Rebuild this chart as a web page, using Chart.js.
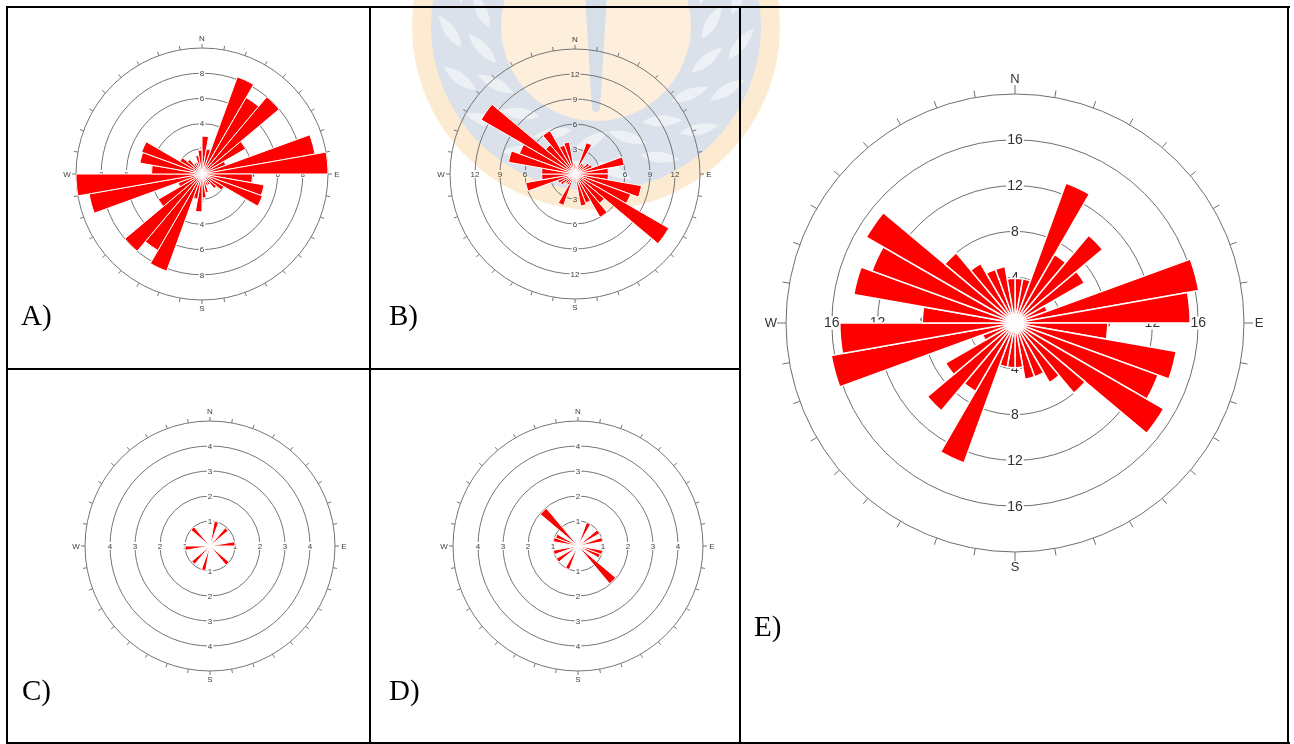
<!DOCTYPE html>
<html>
<head>
<meta charset="utf-8">
<title>Rose diagrams A–E</title>
<script src="https://cdn.jsdelivr.net/npm/chart.js@4.4.1/dist/chart.umd.min.js"></script>
<style>
  html, body { margin: 0; padding: 0; background: #fff; }
  #page { position: relative; width: 1294px; height: 744px; overflow: hidden; background: #fff; }
  #wm { position: absolute; left: 0; top: 0; }
  .rule { position: absolute; background: #000; }
  .rose { position: absolute; }
  .tag { position: absolute; font-family: "Liberation Serif", "Times New Roman", serif;
         font-size: 29px; line-height: 29px; color: #000; white-space: nowrap; }
</style>
</head>
<body>
<div id="page">
  <canvas id="wm" width="1294" height="744"></canvas>

  <!-- table rules -->
  <div class="rule" style="left:6px;top:6px;width:1284px;height:2px"></div>
  <div class="rule" style="left:6px;top:742px;width:1284px;height:2px"></div>
  <div class="rule" style="left:6px;top:6px;width:2px;height:738px"></div>
  <div class="rule" style="left:369px;top:6px;width:2px;height:738px"></div>
  <div class="rule" style="left:739px;top:6px;width:2px;height:738px"></div>
  <div class="rule" style="left:1287px;top:6px;width:2px;height:738px"></div>
  <div class="rule" style="left:6px;top:368px;width:734px;height:2px"></div>

  <canvas id="roseA" class="rose"></canvas>
  <canvas id="roseB" class="rose"></canvas>
  <canvas id="roseC" class="rose"></canvas>
  <canvas id="roseD" class="rose"></canvas>
  <canvas id="roseE" class="rose"></canvas>

  <div class="tag" style="left:21px;top:301px">A)</div>
  <div class="tag" style="left:389px;top:301px">B)</div>
  <div class="tag" style="left:22px;top:676px">C)</div>
  <div class="tag" style="left:389px;top:676px">D)</div>
  <div class="tag" style="left:754px;top:612px">E)</div>
</div>

<script>
// 10-degree direction classes, clockwise from north
const BIN_LABELS = ['0-10', '10-20', '20-30', '30-40', '40-50', '50-60', '60-70', '70-80', '80-90',
  '90-100', '100-110', '110-120', '120-130', '130-140', '140-150', '150-160', '160-170', '170-180',
  '180-190', '190-200', '200-210', '210-220', '220-230', '230-240', '240-250', '250-260', '260-270',
  '270-280', '280-290', '290-300', '300-310', '310-320', '320-330', '330-340', '340-350', '350-360'];

const CARDINALS = ['N', 'E', 'S', 'W'];

// petal lengths (frequency) per class
const ROSE_A = [3.0, 2.0, 8.2, 7.0, 8.0, 4.0, 2.0, 9.1, 10.0, 4.0, 5.0, 5.1, 2.0, 1.5, 1.0, 1.0, 1.5, 1.9,
                3.0, 2.0, 8.2, 7.0, 8.0, 4.0, 2.0, 9.1, 10.0, 4.0, 5.0, 5.1, 2.0, 1.5, 1.0, 1.0, 1.5, 1.9];
const ROSE_B = [1.0, 1.0, 4.0, 1.5, 1.5, 2.0, 2.2, 6.0, 4.0, 4.0, 8.1, 7.1, 13.0, 4.6, 6.0, 3.7, 3.9, 1.2,
                1.0, 1.0, 4.0, 1.5, 1.5, 2.0, 2.2, 6.0, 4.0, 4.0, 8.1, 7.1, 13.0, 4.6, 6.0, 3.7, 3.9, 1.2];
const ROSE_C = [0, 1.0, 0, 0, 0.95, 0, 0, 0, 1.0, 0, 0, 0, 0, 1.0, 0, 0, 0, 0,
                0, 1.0, 0, 0, 0.95, 0, 0, 0, 1.0, 0, 0, 0, 0, 1.0, 0, 0, 0, 0];
const ROSE_D = [0, 0, 1.0, 0, 0, 1.0, 0, 1.0, 0, 0, 1.0, 0.95, 0, 1.97, 0, 0, 0, 0,
                0, 0, 1.0, 0, 0, 1.0, 0, 1.0, 0, 0, 1.0, 0.95, 0, 1.97, 0, 0, 0, 0];
const ROSE_E = [3.9, 3.9, 13.0, 6.9, 10.0, 7.0, 3.0, 16.3, 15.3, 8.1, 14.3, 13.3, 15.0, 8.0, 6.0, 5.0, 5.0, 3.9,
                3.9, 3.9, 13.0, 6.9, 10.0, 7.0, 3.0, 16.3, 15.3, 8.1, 14.3, 13.3, 15.0, 8.0, 6.0, 5.0, 5.0, 3.9];

// ring values of each radial scale (last one is the outer frame ring)
const RINGS_A = [0, 2, 4, 6, 8, 10];
const RINGS_B = [0, 3, 6, 9, 12, 15];
const RINGS_C = [0, 1, 2, 3, 4, 5];
const RINGS_D = [0, 1, 2, 3, 4, 5];
const RINGS_E = [0, 4, 8, 12, 16, 20];

// ---------------------------------------------------------------------------
// background emblem behind the table
function drawEmblem() {
  const g = document.getElementById('wm').getContext('2d');
  const X = 596, Y = 26;
  g.save();
  g.beginPath(); g.arc(X, Y, 184, 0, Math.PI * 2); g.fillStyle = '#fcebd0'; g.fill();
  g.beginPath(); g.arc(X, Y, 165, 0, Math.PI * 2); g.fillStyle = '#dae1ea'; g.fill();
  // laurel leaves in the band
  g.fillStyle = '#edf1f5';
  for (let k = 0; k < 2; k++) {
    const rad = k === 0 ? 116 : 146;
    for (let a = -40; a <= 220; a += 19) {
      const t = (a + k * 9) * Math.PI / 180;
      const px = X + rad * Math.cos(t), py = Y + rad * Math.sin(t);
      g.save();
      g.translate(px, py);
      g.rotate(t + (a < 90 ? -1.0 : 1.0));
      g.beginPath();
      g.moveTo(-20, 0);
      g.quadraticCurveTo(-2, -11, 20, 0);
      g.quadraticCurveTo(-2, 11, -20, 0);
      g.fill();
      g.restore();
    }
  }
  g.beginPath(); g.arc(X, Y, 95, 0, Math.PI * 2); g.fillStyle = '#fdefdc'; g.fill();
  // torch
  g.fillStyle = '#d6dee8';
  g.beginPath();
  g.moveTo(X - 11, -5);
  g.lineTo(X + 11, -5);
  g.lineTo(X + 4, 108);
  g.arc(X, 108, 4, 0, Math.PI);
  g.closePath();
  g.fill();
  g.restore();
}
drawEmblem();

// ---------------------------------------------------------------------------
// frame ring ticks, cardinal letters and ring values on the four axes
const roseFrame = {
  id: 'roseFrame',
  beforeDatasetsDraw(chart, args, o) {
    const s = chart.scales.r;
    const ctx = chart.ctx;
    const cx = s.xCenter, cy = s.yCenter, R = s.drawingArea;
    ctx.save();
    ctx.strokeStyle = o.lineColor;
    ctx.lineWidth = 1;
    for (let i = 0; i < 36; i++) {
      const t = i * Math.PI / 18;
      const len = i % 9 === 0 ? o.cardinalTick : o.tick;
      const ux = Math.sin(t), uy = -Math.cos(t);
      ctx.beginPath();
      ctx.moveTo(cx + ux * R, cy + uy * R);
      ctx.lineTo(cx + ux * (R + len), cy + uy * (R + len));
      ctx.stroke();
    }
    ctx.textAlign = 'center';
    ctx.textBaseline = 'middle';
    ctx.font = o.tickFont;
    const h = o.tickBox;
    s.ticks.forEach((tk, i) => {
      if (i === 0 || i === s.ticks.length - 1) return;
      const d = s.getDistanceFromCenterForValue(tk.value);
      const w = ctx.measureText(tk.label).width;
      [[0, -d], [d, 0], [0, d], [-d, 0]].forEach(([dx, dy]) => {
        ctx.globalCompositeOperation = 'destination-out';
        ctx.fillRect(cx + dx - w / 2 - 1, cy + dy - h / 2, w + 2, h);
        ctx.globalCompositeOperation = 'source-over';
        ctx.fillStyle = o.textColor;
        ctx.fillText(tk.label, cx + dx, cy + dy + 0.5);
      });
    });
    ctx.font = o.cardinalFont;
    ctx.fillStyle = o.textColor;
    const g = o.cardinalGap;
    ctx.fillText(CARDINALS[0], cx, cy - R - g);
    ctx.fillText(CARDINALS[1], cx + R + g, cy + 0.5);
    ctx.fillText(CARDINALS[2], cx, cy + R + g);
    ctx.fillText(CARDINALS[3], cx - R - g, cy + 0.5);
    ctx.restore();
  }
};

function makeRose(id, values, rings, box, frame) {
  const size = 2 * (box.r + box.pad);
  const cv = document.getElementById(id);
  cv.width = size;
  cv.height = size;
  cv.style.left = (box.cx - box.r - box.pad) + 'px';
  cv.style.top = (box.cy - box.r - box.pad) + 'px';
  if (box.soft) cv.style.filter = 'blur(' + box.soft + 'px)';
  return new Chart(cv, {
    type: 'polarArea',
    data: {
      labels: BIN_LABELS,
      datasets: [{
        data: values,
        backgroundColor: '#ff0000',
        borderColor: '#ffffff',
        borderWidth: box.sep
      }]
    },
    options: {
      responsive: false,
      animation: false,
      events: [],
      layout: { padding: box.pad },
      plugins: {
        legend: { display: false },
        tooltip: { enabled: false },
        roseFrame: frame
      },
      scales: {
        r: {
          min: rings[0],
          max: rings[rings.length - 1],
          ticks: { display: false, stepSize: rings[1] - rings[0] },
          grid: { color: frame.lineColor, lineWidth: 1, circular: true },
          angleLines: { display: false },
          pointLabels: { display: false }
        }
      }
    },
    plugins: [roseFrame]
  });
}

const smallFrame = {
  lineColor: '#747474', textColor: '#3c3c3c',
  tick: 4, cardinalTick: 4, cardinalGap: 9,
  tickFont: '8px "Liberation Sans", Arial, sans-serif', tickBox: 8,
  cardinalFont: '8px "Liberation Sans", Arial, sans-serif'
};
const largeFrame = {
  lineColor: '#6e6e6e', textColor: '#333333',
  tick: 7, cardinalTick: 9, cardinalGap: 15,
  tickFont: '14px "Liberation Sans", Arial, sans-serif', tickBox: 13,
  cardinalFont: '13px "Liberation Sans", Arial, sans-serif'
};

makeRose('roseA', ROSE_A, RINGS_A, { cx: 202, cy: 174, r: 126, pad: 22, sep: 1, soft: 0.35 }, smallFrame);
makeRose('roseB', ROSE_B, RINGS_B, { cx: 575, cy: 174, r: 125, pad: 22, sep: 1, soft: 0.35 }, smallFrame);
makeRose('roseC', ROSE_C, RINGS_C, { cx: 210, cy: 546, r: 125, pad: 22, sep: 1, soft: 0.35 }, smallFrame);
makeRose('roseD', ROSE_D, RINGS_D, { cx: 578, cy: 546, r: 125, pad: 22, sep: 1, soft: 0.35 }, smallFrame);
makeRose('roseE', ROSE_E, RINGS_E, { cx: 1015, cy: 323, r: 229, pad: 40, sep: 1.5 }, largeFrame);
</script>
</body>
</html>
